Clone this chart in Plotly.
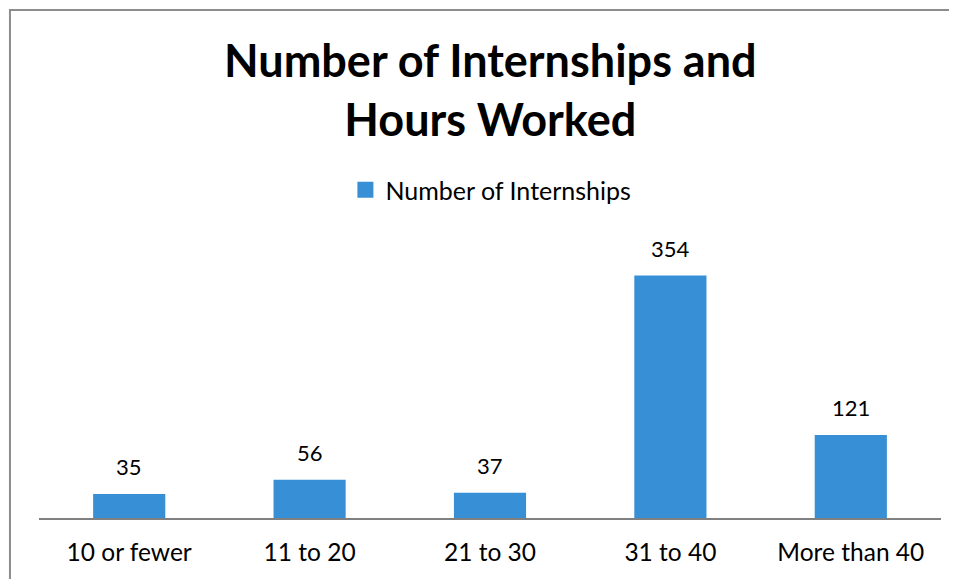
import plotly.graph_objects as go

categories = ["10 or fewer", "11 to 20", "21 to 30", "31 to 40", "More than 40"]
internships = [35, 56, 37, 354, 121]
series_name = "Number of Internships"
title_text = "<b>Number of Internships and<br>Hours Worked</b>"

FONT = "Lato, Calibri, sans-serif"
BAR = "#3790d6"

fig = go.Figure()
fig.add_trace(go.Bar(x=categories, y=internships, name=series_name,
                     marker=dict(color=BAR, line=dict(width=0)),
                     showlegend=False))
# legend entry (square swatch)
fig.add_trace(go.Scatter(x=[None], y=[None], mode="markers", name=series_name,
                         marker=dict(symbol="square", size=16, color=BAR),
                         showlegend=True))

for c, v in zip(categories, internships):
    fig.add_annotation(x=c, y=v, text=str(v), showarrow=False, yanchor="bottom",
                       yshift=12, font=dict(family=FONT, size=22, color="#000"))

fig.add_annotation(xref="paper", yref="paper", x=0.5, y=1.565, text=title_text,
                   showarrow=False, yanchor="middle", xanchor="center",
                   font=dict(family=FONT, size=45, color="#000"))

fig.add_shape(type="rect", xref="paper", yref="paper", x0=-0.0322, x1=1.2,
              y0=-0.5, y1=1.854, line=dict(color="#8c8c8c", width=2), layer="below")

fig.update_layout(
    width=949, height=571,
    margin=dict(l=31, r=16, t=236, b=61),
    paper_bgcolor="white", plot_bgcolor="white",
    bargap=0.6,
    font=dict(family=FONT, size=22, color="#000"),
    showlegend=True,
    legend=dict(orientation="h", x=0.501, y=1.197, xanchor="center", yanchor="middle",
                font=dict(family=FONT, size=25, color="#000"), itemsizing="trace"),
    xaxis=dict(showline=True, linecolor="#808080", linewidth=2, ticks="",
               showgrid=False, tickfont=dict(size=24.5), ticklabelstandoff=12),
    yaxis=dict(range=[0, 400], visible=False, showgrid=False),
)
fig.write_html("out.html")
